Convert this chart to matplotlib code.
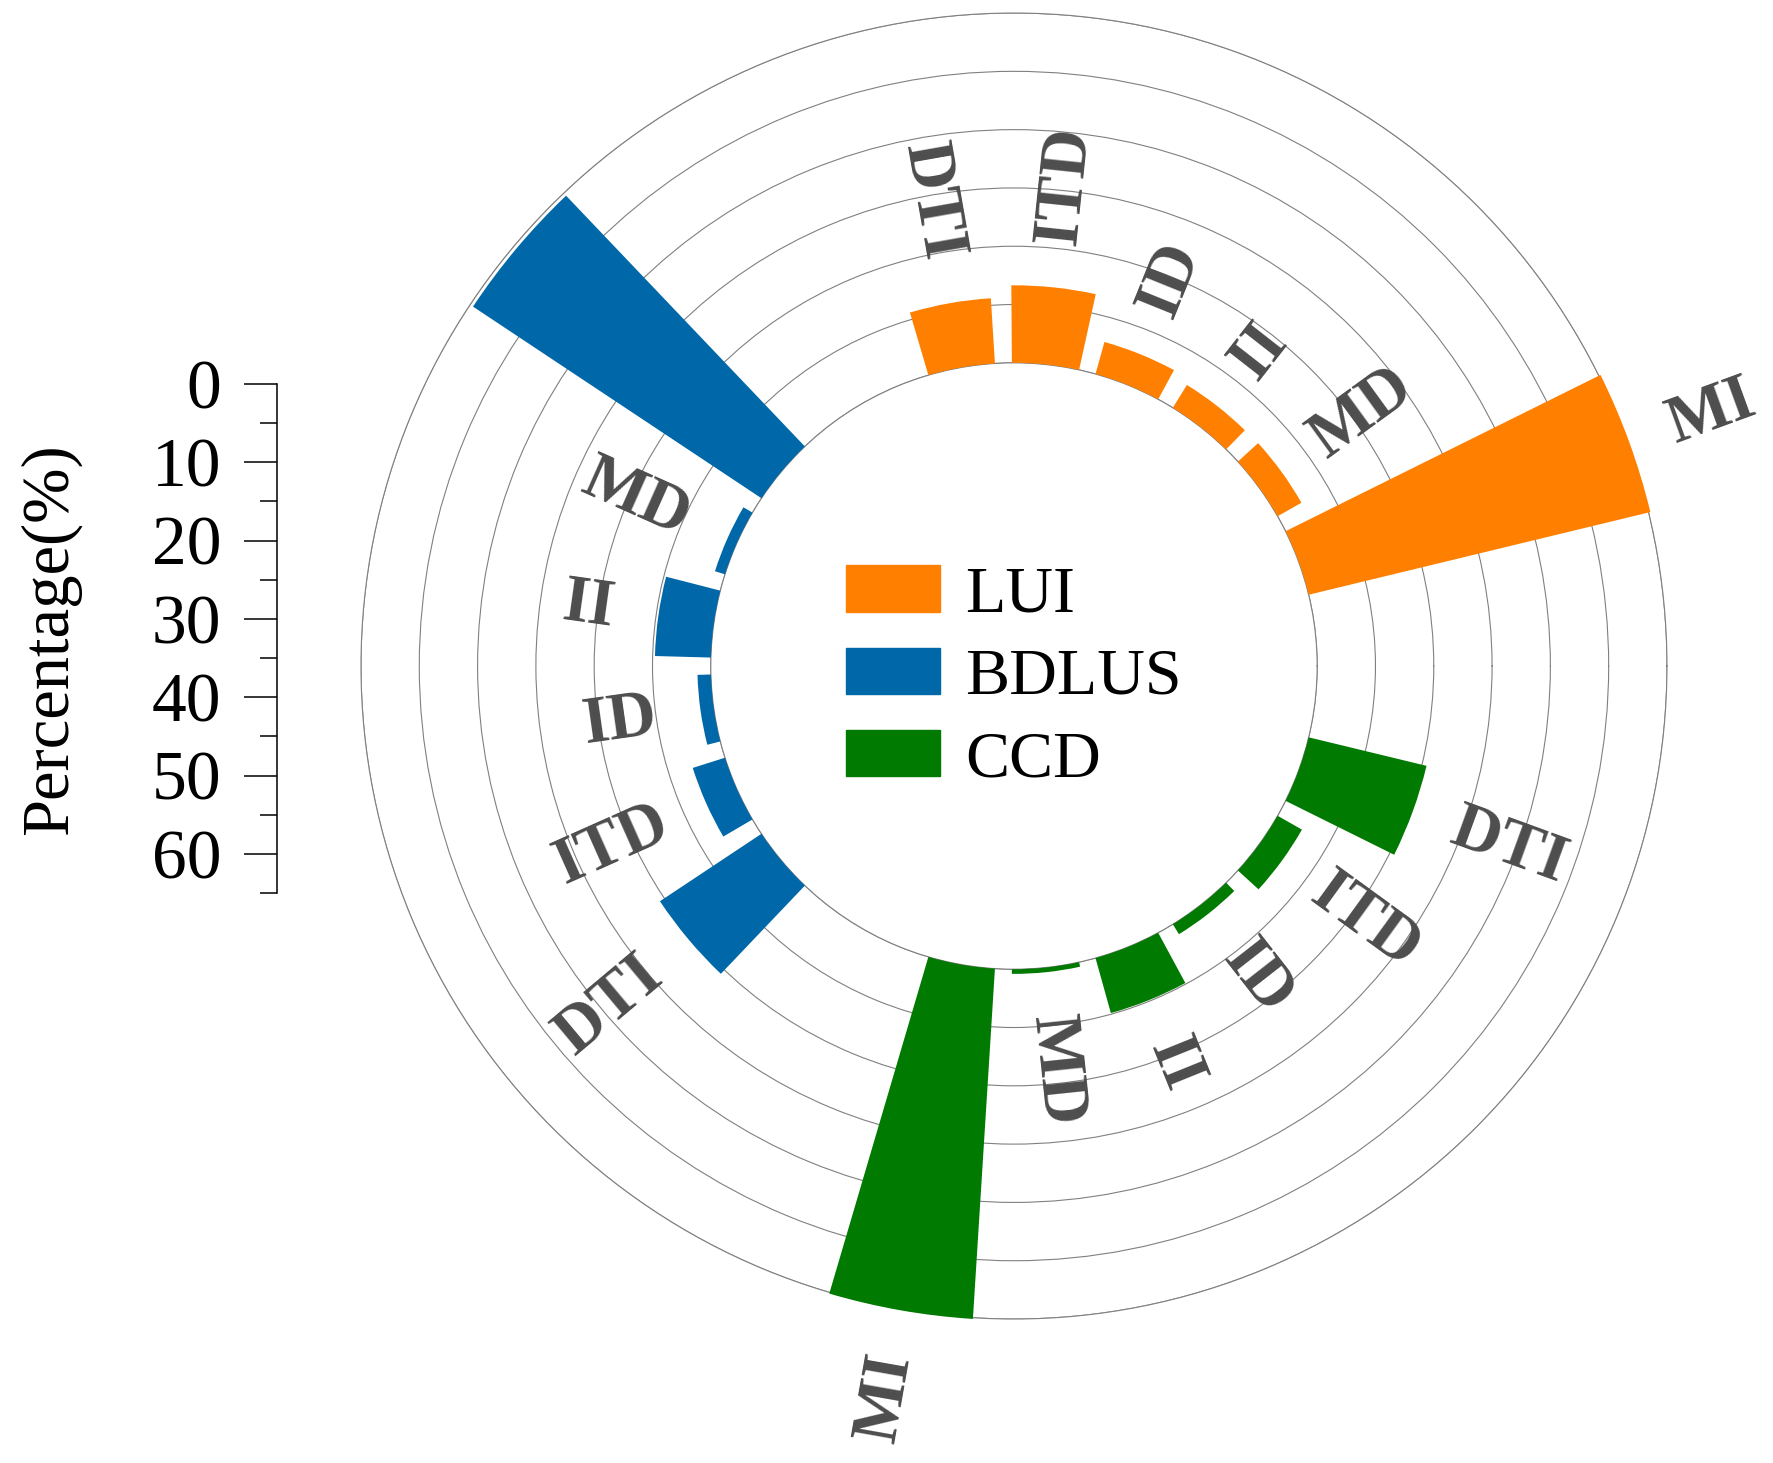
import numpy as np
import matplotlib
matplotlib.use('Agg')
import matplotlib.pyplot as plt
from matplotlib.patches import Patch

plt.rcParams['font.family'] = 'Liberation Serif'

# categorias y valores (%) de cada grupo
categories = ['DTI', 'ITD', 'ID', 'II', 'MD', 'MI']
groups = ['LUI', 'BDLUS', 'CCD']
lui = [11.2, 13.3, 5.7, 4.6, 4.7, 60.3]
bdlus = [20.9, 5.8, 2.3, 9.6, 1.8, 59.4]
ccd = [20.8, 4.8, 2.0, 9.8, 0.8, 60.2]
colors = ['#FF8000', '#0068A8', '#007A00']

# angulo del primer sector de cada grupo, las barras avanzan en sentido horario
group_start = [100, 220, -20]
step = 16
bar_width = 12.8
hole = 52
pad = 7.5

fig = plt.figure(figsize=(17.73, 14.63), dpi=100)
ax = fig.add_axes([0.2036, 0.0984, 0.7366, 0.8927], projection='polar')
ax.set_rorigin(-hole)
ax.set_ylim(0, 60)

for g, vals in enumerate([lui, bdlus, ccd]):
    angles = group_start[g] - step * np.arange(len(categories))
    theta = np.deg2rad(angles)
    ax.bar(theta, vals, width=np.deg2rad(bar_width), bottom=0,
           color=colors[g], clip_on=False, zorder=3, linewidth=0)
    # etiquetas radiales (la de MI en BDLUS no aparece en la figura original)
    for a, v, name in zip(angles, vals, categories):
        if groups[g] == 'BDLUS' and name == 'MI':
            continue
        ang = a % 360
        if 90 < ang < 270:
            rot, ha = ang - 180, 'right'
        else:
            rot, ha = ang, 'left'
        ax.text(np.deg2rad(a), v + pad, name, rotation=rot, rotation_mode='anchor',
                ha=ha, va='center', fontsize=48, fontweight='bold',
                color='#4d4d4d', clip_on=False)

ax.set_xticks([])
ax.set_yticks(range(0, 61, 10))
ax.set_yticklabels([])
ax.yaxis.grid(True, color='#808080', linewidth=0.8)
ax.xaxis.grid(False)
ax.set_axisbelow(True)
for s in ['polar', 'inner']:
    ax.spines[s].set_color('#808080')
    ax.spines[s].set_linewidth(0.8)
for s in ['start', 'end']:
    ax.spines[s].set_visible(False)

handles = [Patch(color=c) for c in colors]
ax.legend(handles, groups, loc='center', bbox_to_anchor=(0.5, 0.491), frameon=False,
          fontsize=47.5, handlelength=1.43, handleheight=0.71,
          handletextpad=0.38, labelspacing=0.33)

# eje vertical de referencia
lax = fig.add_axes([0.15623, 0.3896, 0.001, 0.348])
lax.patch.set_alpha(0)
lax.set_ylim(65, 0)
lax.set_yticks(range(0, 61, 10))
lax.set_yticks(range(5, 66, 10), minor=True)
lax.set_xticks([])
lax.tick_params(axis='y', which='major', length=24, width=1.1, labelsize=50, pad=16)
lax.tick_params(axis='y', which='minor', length=12, width=1.1)
for s in ['right', 'top', 'bottom']:
    lax.spines[s].set_visible(False)
lax.spines['left'].set_linewidth(1.1)

fig.text(50 / 1773, 1 - 639 / 1463, 'Percentage(%)', rotation=90,
         ha='center', va='center', fontsize=48)

fig.savefig('out.png', dpi=100)
